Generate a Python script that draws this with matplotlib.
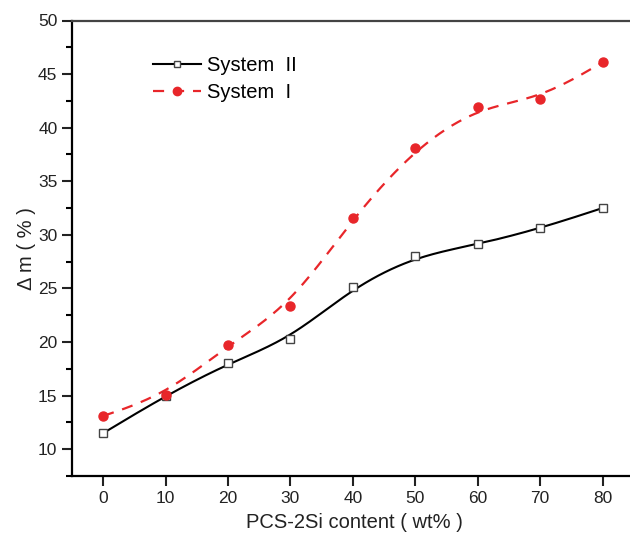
import numpy as np
import matplotlib
matplotlib.use('Agg')
import matplotlib.pyplot as plt
from matplotlib.ticker import MultipleLocator

plt.rcParams['font.family'] = ['Liberation Sans', 'DejaVu Sans']

# data
content = [0, 10, 20, 30, 40, 50, 60, 70, 80]
system_2 = [11.5, 15.0, 18.0, 20.3, 25.1, 28.0, 29.1, 30.6, 32.5]
system_1 = [13.1, 15.1, 19.7, 23.4, 31.6, 38.1, 41.9, 42.7, 46.1]


def bspline_curve(x, y, n=40):
    # clamped uniform cubic B-spline using the points as control points
    # (same kind of smoothed line Origin draws); only used for the line
    px = np.r_[x[0], x[0], x, x[-1], x[-1]].astype(float)
    py = np.r_[y[0], y[0], y, y[-1], y[-1]].astype(float)
    t = np.linspace(0, 1, n)
    b0 = (1 - t) ** 3 / 6
    b1 = (3 * t ** 3 - 6 * t ** 2 + 4) / 6
    b2 = (-3 * t ** 3 + 3 * t ** 2 + 3 * t + 1) / 6
    b3 = t ** 3 / 6
    xs, ys = [], []
    for i in range(len(px) - 3):
        xs.append(b0 * px[i] + b1 * px[i + 1] + b2 * px[i + 2] + b3 * px[i + 3])
        ys.append(b0 * py[i] + b1 * py[i + 1] + b2 * py[i + 2] + b3 * py[i + 3])
    return np.concatenate(xs), np.concatenate(ys)


fig = plt.figure(figsize=(6.3, 5.35), dpi=100)
ax = fig.add_axes([72 / 630, 1 - 476 / 535, 1 - 72 / 630, (476 - 20.5) / 535])

red = '#e8262a'

xs, ys = bspline_curve(content, system_2)
ax.plot(xs, ys, color='black', lw=1.5, zorder=2)
ax.plot(content, system_2, ls='none', marker='s', ms=5.6, mfc='white', mec='#444444', mew=1.0, zorder=3)

xs, ys = bspline_curve(content, system_1)
ax.plot(xs, ys, color=red, lw=1.6, ls=(0, (5, 4)), zorder=2)
ax.plot(content, system_1, ls='none', marker='o', ms=6.5, color=red, zorder=3)

# legend handles
h2, = ax.plot([], [], color='black', lw=1.5, marker='s', ms=5, mfc='white', mec='#444444')
h1, = ax.plot([], [], color=red, lw=1.6, ls=(0, (5, 4)), marker='o', ms=6)
ax.legend([h2, h1], ['System  II', 'System  I'], loc='upper left', bbox_to_anchor=(0.12, 0.953),
          frameon=False, fontsize=14.5, handlelength=2.4, handletextpad=0.3, labelspacing=0.42,
          borderpad=0.2)

ax.set_xlim(-5, 84.4)
ax.set_ylim(7.5, 50)
ax.xaxis.set_major_locator(MultipleLocator(10))
ax.yaxis.set_major_locator(MultipleLocator(5))
ax.yaxis.set_minor_locator(MultipleLocator(2.5))
ax.tick_params(axis='both', which='major', direction='out', length=7, width=1.5, labelsize=12.5, colors='#222222')
ax.tick_params(axis='y', which='minor', direction='out', length=4, width=1.5)

ax.spines['right'].set_visible(False)
ax.spines['left'].set_linewidth(1.6)
ax.spines['bottom'].set_linewidth(1.6)
ax.spines['top'].set_linewidth(1.6)
ax.spines['top'].set_color('#444444')

ax.set_xlabel('PCS-2Si content ( wt% )', fontsize=14.5, color='#222222', va='center')
ax.set_ylabel('Δ m ( % )', fontsize=14.5, color='#222222', va='center')
ax.xaxis.set_label_coords((354 - 72) / 558, -(522 - 476) / 455.5)
ax.yaxis.set_label_coords((27 - 72) / 558, 0.5)

fig.savefig('out.png', dpi=100)
